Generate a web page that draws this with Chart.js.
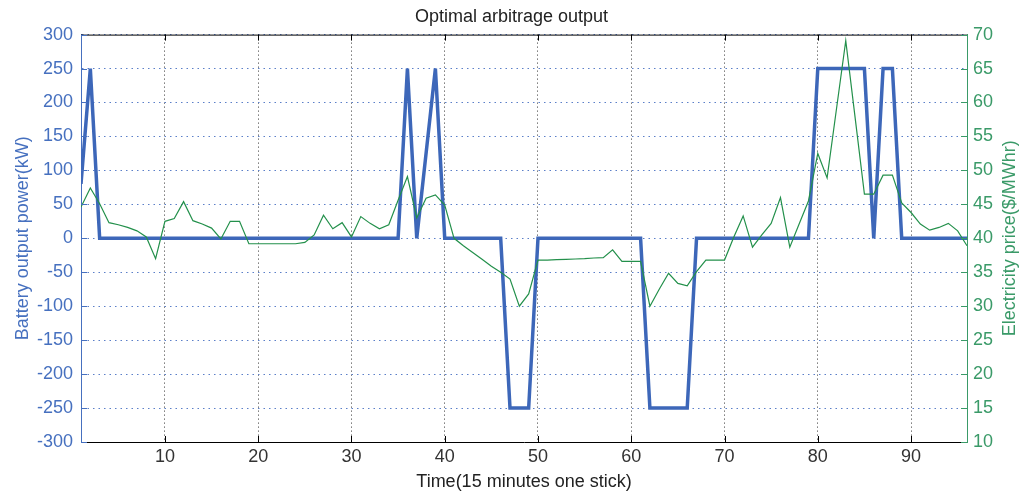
<!DOCTYPE html>
<html>
<head>
<meta charset="utf-8">
<title>Optimal arbitrage output</title>
<script src="https://cdn.jsdelivr.net/npm/chart.js@4.4.1/dist/chart.umd.min.js"></script>
<style>
  html, body { margin: 0; padding: 0; background: #fff; }
  #wrap { width: 1023px; height: 496px; }
</style>
</head>
<body>
<div id="wrap"><canvas id="arbChart" width="1023" height="496"></canvas></div>
<script>
// Time steps (15 minutes each), 1..96
const timeSteps = Array.from({ length: 96 }, (_, i) => i + 1);

// Battery output power (kW)
const batteryOutput = [
  80, 250, 0, 0, 0, 0, 0, 0, 0, 0,
  0, 0, 0, 0, 0, 0, 0, 0, 0, 0,
  0, 0, 0, 0, 0, 0, 0, 0, 0, 0,
  0, 0, 0, 0, 0, 250, 0, 125, 250, 0,
  0, 0, 0, 0, 0, 0, -250, -250, -250, 0,
  0, 0, 0, 0, 0, 0, 0, 0, 0, 0,
  0, -250, -250, -250, -250, -250, 0, 0, 0, 0,
  0, 0, 0, 0, 0, 0, 0, 0, 0, 250,
  250, 250, 250, 250, 250, 0, 250, 250, 0, 0,
  0, 0, 0, 0, 0, 0
];

// Electricity price ($/MWhr)
const electricityPrice = [
  44.6, 47.4, 45.1, 42.3, 42.0, 41.6, 41.1, 40.2, 37.0, 42.5,
  42.9, 45.4, 42.6, 42.1, 41.5, 39.9, 42.5, 42.5, 39.2, 39.2,
  39.2, 39.2, 39.2, 39.2, 39.4, 40.5, 43.4, 41.4, 42.3, 40.2,
  43.2, 42.2, 41.4, 42.0, 45.6, 49.1, 43.0, 45.9, 46.4, 44.9,
  40.0, 38.9, 37.9, 36.9, 35.9, 35.0, 34.0, 30.0, 31.8, 36.8,
  36.8, 36.85, 36.9, 36.95, 37.0, 37.1, 37.15, 38.3, 36.6, 36.6,
  36.6, 30.0, 32.5, 34.85, 33.35, 33.0, 35.1, 36.8, 36.8, 36.8,
  40.2, 43.3, 38.7, 40.5, 42.2, 46.0, 38.7, 42.1, 45.5, 52.5,
  48.9, 59.0, 69.1, 57.8, 46.5, 46.5, 49.3, 49.3, 45.2, 43.8,
  42.1, 41.2, 41.6, 42.2, 41.1, 38.9
];

const timeTicks = [10, 20, 30, 40, 50, 60, 70, 80, 90];
const powerTicks = [-300, -250, -200, -150, -100, -50, 0, 50, 100, 150, 200, 250, 300];
const priceTicks = [10, 15, 20, 25, 30, 35, 40, 45, 50, 55, 60, 65, 70];

const BLUE = '#4670bf';
const BLUE_LINE = '#3d67b9';
const GREEN = '#3a9a68';
const GREEN_LINE = '#23904b';
const FONT = '"Liberation Sans", Arial, sans-serif';

// top border, inward tick marks and the right axis title (reads bottom to top)
const frame = {
  id: 'frame',
  afterDraw(chart) {
    const { ctx, chartArea: a, scales } = chart;
    const line = (x1, y1, x2, y2, color) => {
      ctx.strokeStyle = color;
      ctx.beginPath(); ctx.moveTo(x1, y1); ctx.lineTo(x2, y2); ctx.stroke();
    };
    ctx.save();
    ctx.lineWidth = 1;
    line(a.left, a.top + 0.5, a.right, a.top + 0.5, '#000');
    scales.x.ticks.forEach(t => {
      const px = Math.round(scales.x.getPixelForValue(t.value)) + 0.5;
      line(px, a.bottom, px, a.bottom - 6, '#000');
      line(px, a.top, px, a.top + 6, '#000');
    });
    scales.y.ticks.forEach(t => {
      const py = Math.round(scales.y.getPixelForValue(t.value)) + 0.5;
      line(a.left, py, a.left + 6, py, BLUE);
    });
    scales.y1.ticks.forEach(t => {
      const py = Math.round(scales.y1.getPixelForValue(t.value)) + 0.5;
      line(a.right, py, a.right - 6, py, GREEN);
    });
    ctx.translate(1010, (a.top + a.bottom) / 2);
    ctx.rotate(-Math.PI / 2);
    ctx.fillStyle = GREEN;
    ctx.font = '18px ' + FONT;
    ctx.textAlign = 'center';
    ctx.textBaseline = 'middle';
    ctx.fillText('Electricity price($/MWhr)', 0, 0);
    ctx.restore();
  }
};

new Chart(document.getElementById('arbChart'), {
  type: 'line',
  data: {
    labels: timeSteps,
    datasets: [{
      label: 'Electricity price',
      data: electricityPrice,
      yAxisID: 'y1',
      borderColor: GREEN_LINE,
      borderWidth: 1.2,
      pointRadius: 0,
      tension: 0,
      order: 1
    }, {
      label: 'Battery output',
      data: batteryOutput,
      yAxisID: 'y',
      borderColor: BLUE_LINE,
      borderWidth: 3.5,
      pointRadius: 0,
      tension: 0,
      order: 2
    }]
  },
  options: {
    responsive: false,
    animation: false,
    layout: { padding: 0 },
    plugins: {
      legend: { display: false },
      tooltip: { enabled: false },
      title: {
        display: true,
        text: 'Optimal arbitrage output',
        color: '#222',
        font: { family: FONT, size: 18, weight: 'normal' },
        padding: { top: 6, bottom: 7 }
      }
    },
    scales: {
      x: {
        type: 'linear',
        min: 1,
        max: 96,
        afterBuildTicks: s => { s.ticks = timeTicks.map(v => ({ value: v })); },
        afterFit: s => { s.height = 54; },
        ticks: { color: '#333', font: { family: FONT, size: 18 }, padding: 4, maxRotation: 0, autoSkip: false },
        grid: { color: '#333', drawTicks: false, lineWidth: 1 },
        border: { display: true, color: '#000', width: 1, dash: [1, 3] },
        title: {
          display: true,
          text: 'Time(15 minutes one stick)',
          color: '#222',
          font: { family: FONT, size: 18 },
          padding: { top: 0, bottom: 3 }
        }
      },
      y: {
        position: 'left',
        min: -300,
        max: 300,
        afterBuildTicks: s => { s.ticks = powerTicks.map(v => ({ value: v })); },
        afterFit: s => { s.width = 81; },
        ticks: { color: BLUE, font: { family: FONT, size: 18 }, padding: 8 },
        grid: { color: '#5b7fc8', drawTicks: false, lineWidth: 1 },
        border: { display: true, color: BLUE, width: 1, dash: [1.5, 4] },
        title: {
          display: true,
          text: 'Battery output power(kW)',
          color: BLUE,
          font: { family: FONT, size: 18 },
          padding: { top: 12, bottom: 0 }
        }
      },
      y1: {
        position: 'right',
        min: 10,
        max: 70,
        afterBuildTicks: s => { s.ticks = priceTicks.map(v => ({ value: v })); },
        afterFit: s => { s.width = 56; },
        ticks: { color: GREEN, font: { family: FONT, size: 18 }, padding: 6 },
        grid: { display: false, drawTicks: false },
        border: { display: true, color: GREEN, width: 1 }
      }
    }
  },
  plugins: [frame]
});
</script>
</body>
</html>
